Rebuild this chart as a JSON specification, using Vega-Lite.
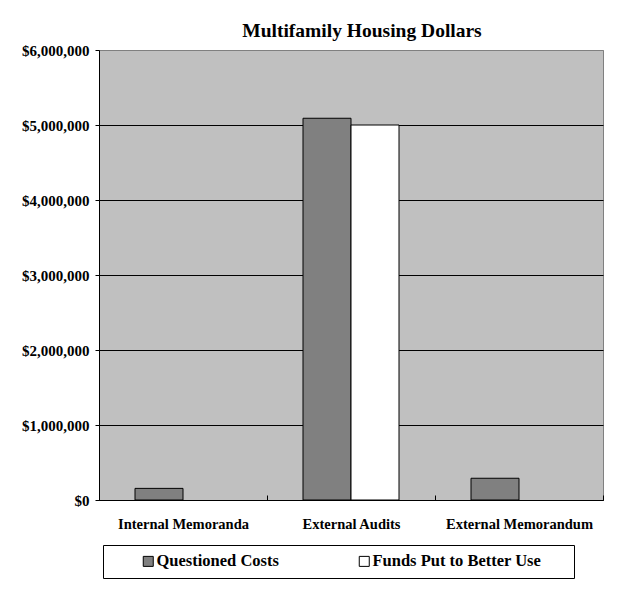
{
  "$schema": "https://vega.github.io/schema/vega-lite/v6.json",
  "width": 504,
  "height": 450,
  "autosize": {"type": "none"},
  "padding": {"left": 99, "top": 50, "right": 26, "bottom": 91},
  "background": "white",
  "title": {
    "text": "Multifamily Housing Dollars",
    "font": "Liberation Serif",
    "fontSize": 19.5,
    "fontWeight": "bold",
    "color": "black",
    "anchor": "middle",
    "dx": 11,
    "dy": 25,
    "baseline": "alphabetic",
    "offset": 12
  },
  "data": {
    "values": [
      {"category": "Internal Memoranda", "series": "Questioned Costs", "amount": 155000},
      {"category": "Internal Memoranda", "series": "Funds Put to Better Use", "amount": 0},
      {"category": "External Audits", "series": "Questioned Costs", "amount": 5090000},
      {"category": "External Audits", "series": "Funds Put to Better Use", "amount": 5000000},
      {"category": "External Memorandum", "series": "Questioned Costs", "amount": 290000},
      {"category": "External Memorandum", "series": "Funds Put to Better Use", "amount": 0}
    ]
  },
  "mark": {"type": "bar", "stroke": "black", "strokeWidth": 1},
  "encoding": {
    "x": {
      "field": "category",
      "type": "nominal",
      "sort": ["Internal Memoranda", "External Audits", "External Memorandum"],
      "scale": {"paddingInner": 0, "paddingOuter": 0},
      "axis": {
        "title": null,
        "labelAngle": 0,
        "tickBand": "extent",
        "tickSize": -5,
        "tickColor": "black",
        "domainColor": "black",
        "labelBaseline": "alphabetic",
        "labelPadding": 33,
        "labelFont": "Liberation Serif",
        "labelFontSize": 14.5,
        "labelFontWeight": "bold",
        "labelColor": "black"
      }
    },
    "xOffset": {
      "field": "series",
      "type": "nominal",
      "sort": ["Questioned Costs", "Funds Put to Better Use"],
      "scale": {"paddingInner": 0, "paddingOuter": 0.75}
    },
    "y": {
      "field": "amount",
      "type": "quantitative",
      "scale": {"domain": [0, 6000000], "nice": false},
      "axis": {
        "title": null,
        "values": [0, 1000000, 2000000, 3000000, 4000000, 5000000, 6000000],
        "format": "$,.0f",
        "grid": true,
        "gridColor": {"condition": {"test": "datum.value >= 6000000", "value": "#808080"}, "value": "black"},
        "gridOpacity": 1,
        "gridWidth": 1,
        "domainColor": "black",
        "tickColor": "black",
        "tickSize": 4,
        "labelPadding": 6,
        "labelFont": "Liberation Serif",
        "labelFontSize": 15,
        "labelFontWeight": "bold",
        "labelColor": "black"
      }
    },
    "strokeOpacity": {
      "condition": {"test": "datum.amount == 0", "value": 0},
      "value": 1
    },
    "color": {
      "field": "series",
      "type": "nominal",
      "sort": ["Questioned Costs", "Funds Put to Better Use"],
      "scale": {"domain": ["Questioned Costs", "Funds Put to Better Use"], "range": ["#808080", "#FFFFFF"]},
      "legend": {
        "title": "\u00a0",
        "titleOrient": "left",
        "titlePadding": 29,
        "titleFontSize": 2,
        "orient": "none",
        "legendX": 4,
        "legendY": 495,
        "direction": "horizontal",
        "strokeColor": "black",
        "fillColor": "white",
        "padding": 8,
        "symbolType": "square",
        "symbolSize": 100,
        "symbolStrokeColor": "black",
        "symbolStrokeWidth": 1,
        "symbolOpacity": 1,
        "labelFont": "Liberation Serif",
        "labelFontSize": 16.5,
        "labelFontWeight": "bold",
        "labelColor": "black",
        "labelOffset": 0,
        "labelLimit": 400,
        "columnPadding": 77,
        "labelExpr": "datum.label == 'Funds Put to Better Use' ? datum.label + '\u00a0\u00a0\u00a0\u00a0\u00a0\u00a0\u200b' : datum.label"
      }
    }
  },
  "config": {
    "view": {"fill": "#C0C0C0", "stroke": "#808080", "strokeWidth": 1}
  }
}
